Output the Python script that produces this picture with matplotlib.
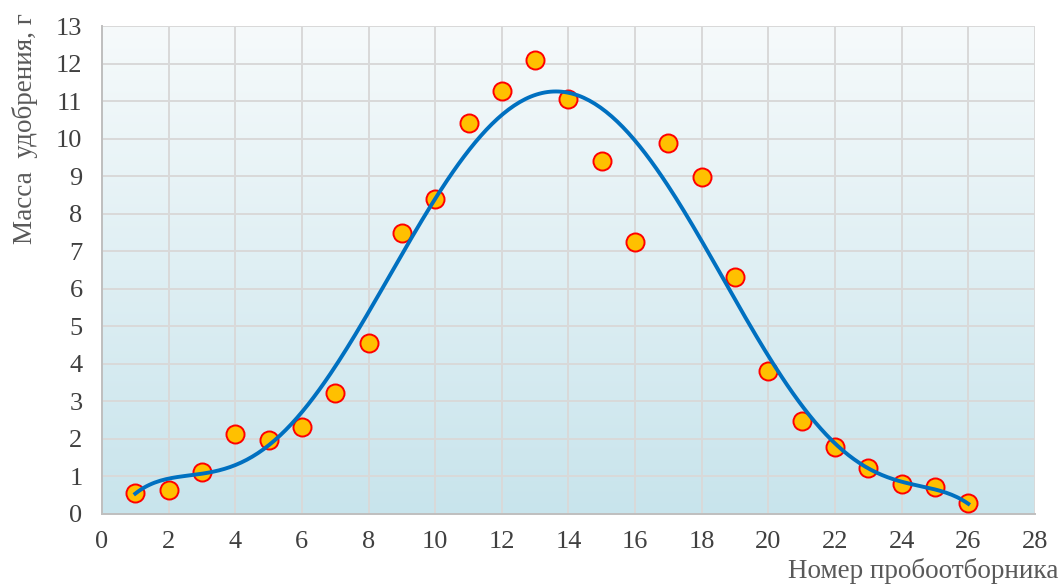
import numpy as np
import matplotlib.pyplot as plt

plt.rcParams['font.family'] = ['Liberation Serif', 'DejaVu Serif']

# номера пробоотборников и масса удобрения
nomer = [1, 2, 3, 4, 5, 6, 7, 8, 9, 10, 11, 12, 13,
         14, 15, 16, 17, 18, 19, 20, 21, 22, 23, 24, 25, 26]
massa = [0.56, 0.64, 1.12, 2.13, 1.97, 2.32, 3.22, 4.56, 7.49, 8.39, 10.41, 11.27, 12.09,
         11.05, 9.40, 7.25, 9.88, 8.98, 6.31, 3.81, 2.48, 1.78, 1.23, 0.80, 0.72, 0.29]

x_ticks = list(range(0, 29, 2))
y_ticks = list(range(0, 14))

fig = plt.figure(figsize=(10.59, 5.86), dpi=100)
ax = fig.add_axes([0.0963, 0.1229, 0.881, 0.8327])

# фон - градиент (снизу голубой, сверху почти белый)
grad = np.linspace(0, 1, 256).reshape(-1, 1)
top = np.array([246, 250, 251]) / 255
bot = np.array([200, 228, 236]) / 255
img = bot + (top - bot) * grad[:, :, None]
ax.imshow(img, extent=[0, 28, 0, 13], origin='lower', aspect='auto', zorder=0)

# линия тренда (полином 6-й степени)
coef = np.polyfit(nomer, massa, 6)
xs = np.linspace(nomer[0], nomer[-1], 300)
ax.plot(xs, np.polyval(coef, xs), color='#0070C0', lw=2.8, zorder=4)

ax.plot(nomer, massa, 'o', ms=13, mfc='#FFC000', mec='#FF0000', mew=1.4, zorder=3)

ax.set_xlim(0, 28)
ax.set_ylim(0, 13)
ax.set_xticks(x_ticks)
ax.set_yticks(y_ticks)
ax.grid(True, color='#D9D9D9', lw=1.4, zorder=1)
ax.set_axisbelow(True)
for s in ['top', 'right']:
    ax.spines[s].set_visible(False)
for s in ['left', 'bottom']:
    ax.spines[s].set_color('#BFBFBF')
    ax.spines[s].set_linewidth(1.4)
ax.tick_params(length=0, labelsize=19, labelcolor='#404040')
ax.tick_params(axis='y', pad=14)
ax.tick_params(axis='x', pad=12)

fig.text(0.024, 0.978, 'Масса  удобрения, г', rotation=90, ha='center', va='top',
         fontsize=19.5, color='#595959')
fig.text(0.999, 0.003, 'Номер пробоотборника', ha='right', va='bottom',
         fontsize=19.5, color='#595959')

fig.savefig('out.png', dpi=100)
